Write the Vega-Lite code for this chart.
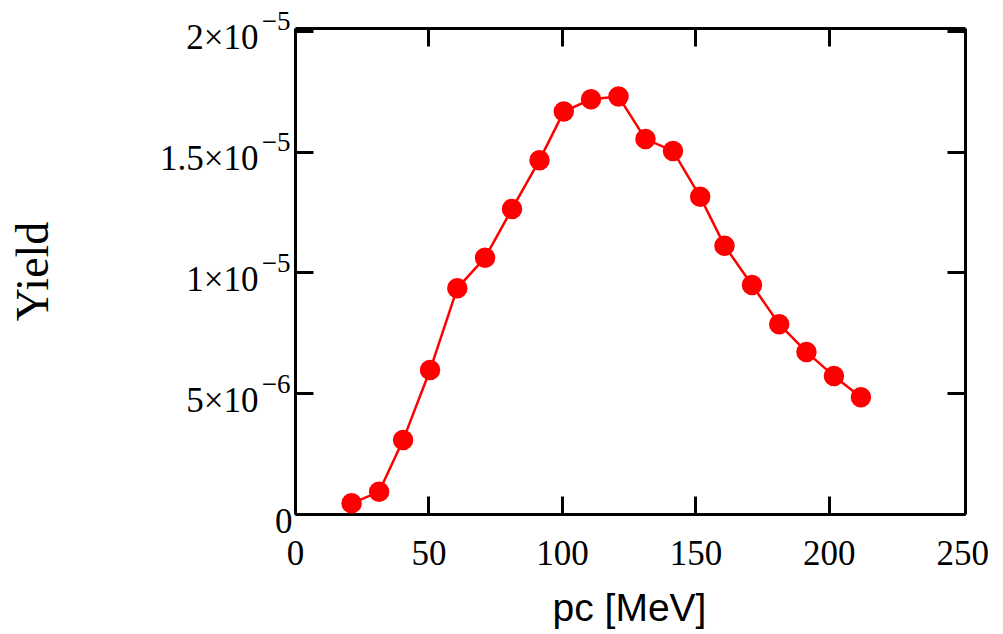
{
  "$schema": "https://vega.github.io/schema/vega-lite/v6.json",
  "autosize": {"type": "none"},
  "padding": {"left": 295, "top": 28, "right": 38, "bottom": 120},
  "width": 670,
  "height": 486,
  "background": "white",
  "config": {
    "view": {"stroke": null},
    "axis": {
      "domainColor": "black",
      "domainWidth": 3,
      "tickColor": "black",
      "tickWidth": 3,
      "tickOpacity": 1,
      "grid": false,
      "zindex": 1,
      "labelColor": "black",
      "labelFont": "Liberation Serif",
      "labelFontSize": 35,
      "titleColor": "black"
    }
  },
  "data": {
    "values": [
      {"pc": 21.2, "yield": 0.44e-6},
      {"pc": 31.5, "yield": 0.92e-6},
      {"pc": 40.5, "yield": 3.06e-6},
      {"pc": 50.6, "yield": 5.96e-6},
      {"pc": 60.8, "yield": 9.35e-6},
      {"pc": 71.2, "yield": 10.61e-6},
      {"pc": 81.3, "yield": 12.63e-6},
      {"pc": 91.6, "yield": 14.65e-6},
      {"pc": 100.7, "yield": 16.66e-6},
      {"pc": 110.9, "yield": 17.17e-6},
      {"pc": 121.2, "yield": 17.28e-6},
      {"pc": 131.3, "yield": 15.52e-6},
      {"pc": 141.6, "yield": 15.03e-6},
      {"pc": 151.8, "yield": 13.13e-6},
      {"pc": 160.9, "yield": 11.11e-6},
      {"pc": 171.2, "yield": 9.48e-6},
      {"pc": 181.4, "yield": 7.86e-6},
      {"pc": 191.6, "yield": 6.71e-6},
      {"pc": 201.9, "yield": 5.71e-6},
      {"pc": 212.0, "yield": 4.83e-6}
    ]
  },
  "resolve": {"axis": {"x": "independent", "y": "independent"}},
  "layer": [
    {
      "mark": {"type": "line", "color": "#ff0000", "strokeWidth": 2.5},
      "encoding": {
        "x": {
          "field": "pc", "type": "quantitative",
          "scale": {"domain": [0, 251], "nice": false, "zero": false},
          "axis": {
            "orient": "bottom",
            "values": [0, 50, 100, 150, 200, 250],
            "ticks": false,
            "title": "pc [MeV]",
            "titleFont": "Liberation Sans",
            "titleFontSize": 39,
            "titleFontWeight": "normal",
            "titleX": 334,
            "titleY": 106,
            "titleBaseline": "alphabetic",
            "labelPadding": 22,
            "labelFlush": false,
            "labelBaseline": "top"
          }
        },
        "y": {
          "field": "yield", "type": "quantitative",
          "scale": {"domain": [0, 2.012e-5], "nice": false, "zero": false},
          "axis": {
            "orient": "left",
            "values": [0, 5e-6, 1e-5, 1.5e-5, 2e-5],
            "ticks": false,
            "labelExpr": "datum.value < 1e-7 ? '' : datum.value < 6e-6 ? '5×10' : datum.value < 1.1e-5 ? '1×10' : datum.value < 1.6e-5 ? '1.5×10' : '2×10'",
            "labelPadding": 37,
            "labelOffset": 7,
            "labelFlush": false,
            "title": "Yield",
            "titleFont": "Liberation Serif",
            "titleFontSize": 46,
            "titleFontWeight": "normal",
            "titleAngle": -90,
            "titleAlign": "center",
            "titleBaseline": "alphabetic",
            "titleX": -248,
            "titleY": 243
          }
        }
      }
    },
    {
      "mark": {"type": "point", "filled": true, "color": "#ff0000", "opacity": 1, "size": 420},
      "encoding": {
        "x": {
          "field": "pc", "type": "quantitative",
          "axis": {"orient": "top", "labels": false, "title": null, "ticks": false}
        },
        "y": {
          "field": "yield", "type": "quantitative",
          "axis": {"orient": "right", "labels": false, "title": null, "ticks": false}
        }
      }
    },
    {
      "mark": {"type": "point", "opacity": 0, "size": 1},
      "encoding": {
        "x": {"field": "pc", "type": "quantitative", "axis": null},
        "y": {
          "field": "yield", "type": "quantitative",
          "axis": {
            "orient": "left",
            "values": [5e-6, 1e-5, 1.5e-5, 2e-5],
            "labelExpr": "datum.value < 6e-6 ? '−6' : '−5'",
            "labelFontSize": 27,
            "ticks": false,
            "domain": false,
            "labelPadding": 5,
            "labelOffset": -9,
            "labelFlush": false,
            "title": null
          }
        }
      }
    },
    {
      "mark": {"type": "point", "opacity": 0, "size": 1},
      "encoding": {
        "x": {"field": "pc", "type": "quantitative", "axis": null},
        "y": {
          "field": "yield", "type": "quantitative",
          "axis": {
            "orient": "left",
            "values": [0],
            "labelExpr": "'0'",
            "ticks": false,
            "domain": false,
            "labelPadding": 3,
            "labelOffset": 7,
            "labelFlush": false,
            "title": null
          }
        }
      }
    },
    {
      "mark": {"type": "point", "opacity": 0, "size": 1},
      "encoding": {
        "x": {
          "field": "pc", "type": "quantitative",
          "axis": {"orient": "top", "values": [50, 100, 150, 200], "labels": false, "title": null, "domain": false, "ticks": true, "tickSize": 18, "tickColor": "#010101", "tickWidth": 3, "offset": -18}
        },
        "y": {
          "field": "yield", "type": "quantitative",
          "axis": {"orient": "left", "values": [0, 5e-6, 1e-5, 1.5e-5, 2e-5], "labels": false, "title": null, "domain": false, "ticks": true, "tickSize": 18, "tickColor": "#010101", "tickWidth": 3, "offset": -18}
        }
      }
    },
    {
      "mark": {"type": "point", "opacity": 0, "size": 1},
      "encoding": {
        "x": {
          "field": "pc", "type": "quantitative",
          "axis": {"orient": "bottom", "values": [50, 100, 150, 200], "labels": false, "title": null, "domain": false, "ticks": true, "tickSize": 18, "tickColor": "#010101", "tickWidth": 3, "offset": -18}
        },
        "y": {
          "field": "yield", "type": "quantitative",
          "axis": {"orient": "right", "values": [0, 5e-6, 1e-5, 1.5e-5, 2e-5], "labels": false, "title": null, "domain": false, "ticks": true, "tickSize": 18, "tickColor": "#010101", "tickWidth": 3, "offset": -18}
        }
      }
    }
  ]
}
